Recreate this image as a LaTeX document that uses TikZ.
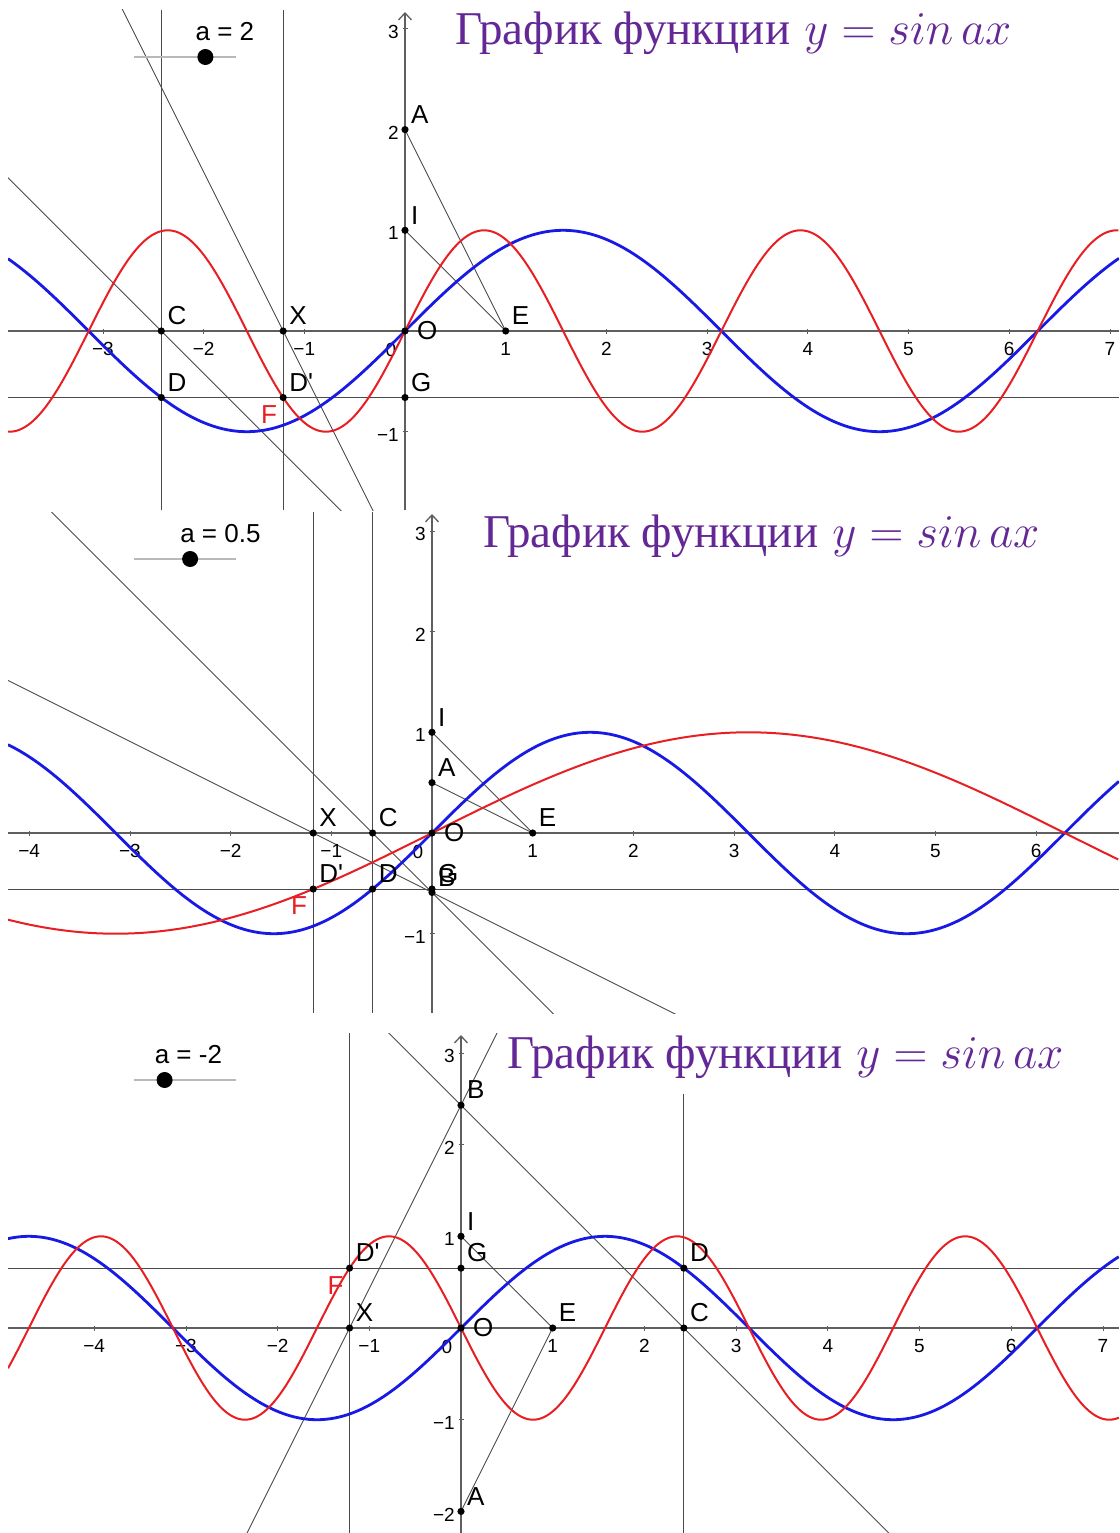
\RequirePackage{fix-cm}
\documentclass[tikz,border=0pt]{standalone}
\usepackage{fontspec}
\newfontfamily\ggbsans{Liberation Sans}
\newfontfamily\ggbserif{Liberation Serif}
\definecolor{ggbblue}{RGB}{25,25,230}
\definecolor{ggbred}{RGB}{232,30,35}
\definecolor{ggbgray}{RGB}{95,95,95}
\definecolor{ggbline}{RGB}{75,75,75}
\definecolor{ggbtrack}{RGB}{185,185,185}
\definecolor{ggbpurple}{RGB}{100,40,150}
\usetikzlibrary{arrows.meta,calc}

\begin{document}
\begin{tikzpicture}[x=1pt, y=-1pt,
  axisline/.style={ggbgray, line width=1.3pt},
  tickmark/.style={ggbgray, line width=0.8pt},
  auxline/.style={ggbline, line width=0.9pt},
  curvesin/.style={ggbblue, line width=2.8pt},
  curvesinax/.style={ggbred, line width=2pt},
  ptlabel/.style={font=\ggbsans\fontsize{26}{28}\selectfont, inner sep=0pt},
  ptname/.style={ptlabel, anchor=south west, xshift=6pt, yshift=6pt},
  ticklabel/.style={font=\ggbsans\fontsize{19}{21}\selectfont, inner sep=0pt},
  titlebox/.style={font=\fontsize{47}{52}\selectfont, text=ggbpurple, fill=white,
    anchor=base west, inner xsep=4pt, inner ysep=2pt, text height=36pt, text depth=24pt}]
\fill[white] (0,0) rectangle (1119,1533);
\useasboundingbox (0,0) rectangle (1119,1533);

% one GeoGebra view per value of a
\foreach \n/\av/\cv/\ox/\oy/\un/\ptop/\pbot/\tx/\xt/\yt in {
    1/2/-2.42/405/331/100.7/10/510/455/{-3,...,-1,1,2,...,7}/{-1,1,2,3},
    2/0.5/-0.59/432/833/100.7/512/1013/483/{-4,...,-1,1,2,...,6}/{-1,1,2,3},
    3/-2/2.43/461/1328/91.7/1033/1533/507/{-4,...,-1,1,2,...,7}/{-2,-1,1,2,3}}
{
  \pgfmathsetmacro\xl{(8-\ox)/\un}
  \pgfmathsetmacro\xr{(1119-\ox)/\un}
  \pgfmathsetmacro\ytop{(\oy-\ptop)/\un}
  \pgfmathsetmacro\ybot{(\oy-\pbot)/\un}
  \pgfmathsetmacro\yarr{(\oy-\ptop-2)/\un}
  \pgfmathsetmacro\sv{sin(\cv r)}
  \pgfmathsetmacro\xc{\cv/\av}
  \begin{scope}[shift={(\ox,\oy)}, x=\un pt, y=\un pt]
    \clip (\xl,\ybot) rectangle (\xr,\ytop);
    \coordinate (O\n) at (0,0);
    \coordinate (E\n) at (1,0);
    \coordinate (I\n) at (0,1);
    \coordinate (A\n) at (0,\av);
    \coordinate (B\n) at (0,\cv);
    \coordinate (C\n) at (\cv,0);
    \coordinate (D\n) at (\cv,\sv);
    \coordinate (G\n) at (0,\sv);
    \coordinate (X\n) at (\xc,0);
    \coordinate (Dp\n) at (\xc,\sv);
    \coordinate (xa\n) at (\xl,0);
    \coordinate (xb\n) at (\xr,0);
    \coordinate (ya\n) at (0,\ybot);
    \coordinate (yb\n) at (0,\ytop);
    \coordinate (yarr\n) at (0,\yarr);
    % construction
    \draw[auxline] (C\n |- ya\n) -- (C\n |- yb\n);
    \draw[auxline] (X\n |- ya\n) -- (X\n |- yb\n);
    \draw[auxline] (D\n -| xa\n) -- (D\n -| xb\n);
    \draw[auxline] ($(C\n)!-15!(B\n)$) -- ($(C\n)!15!(B\n)$);
    \draw[auxline] ($(X\n)!-15!(B\n)$) -- ($(X\n)!15!(B\n)$);
    \draw[auxline] (A\n) -- (E\n);
    \draw[auxline] (I\n) -- (E\n);
    % axes
    \draw[axisline] (xa\n) -- (xb\n);
    \draw[axisline, -{Straight Barb[length=7pt,width=13pt]}] (ya\n) -- (yarr\n);
    \foreach \xv in \xt {
      \draw[tickmark] (\xv,0) ++(0pt,-2.5pt) -- ++(0pt,5pt);
      \node[ticklabel, anchor=north, yshift=-11pt] (tx\n\xv) at (\xv,0)
        {\ifnum\xv<0 −\the\numexpr-\xv\relax\else\xv\fi};
    }
    \foreach \yv in \yt {
      \draw[tickmark] (0,\yv) ++(-2.5pt,0pt) -- ++(5pt,0pt);
      \node[ticklabel, anchor=east, xshift=-6pt, yshift=-3pt] (ty\n\yv) at (0,\yv)
        {\ifnum\yv<0 −\the\numexpr-\yv\relax\else\yv\fi};
    }
    \node[ticklabel] (tz\n) at ($(O\n)+(-14pt,-19pt)$) {0};
    % y = sin x and y = sin ax
    \draw[curvesin, domain=\xl:\xr, samples=300] plot (\x,{sin(\x r)});
    \draw[curvesinax, domain=\xl:\xr, samples=500] plot (\x,{sin(\av*\x r)});
    % points
    \foreach \p in {O,E,I,A,B,C,D,G,X,Dp}
      \fill (\p\n) circle (3.6pt);
    \foreach \p/\ptxt in {E/E,I/I,A/A,B/B,C/C,D/D,G/G,X/X,Dp/D'}
      \node[ptname] (l\p\n) at (\p\n) {\ptxt};
    \node[ptlabel, anchor=west, xshift=12pt] (lO\n) at (O\n) {O};
    \node[ptlabel, text=ggbred, xshift=-14pt, yshift=-17pt] (lF\n) at (Dp\n) {F};
  \end{scope}
  % title and slider
  \node[titlebox] (title\n) at (\tx-4,\ptop+35)
    {{\ggbserif График функции} $y=sin\,ax$};
  \coordinate (sl\n) at (134,\ptop+47);
  \coordinate (sr\n) at (236,\ptop+47);
  \coordinate (sd\n) at (185+10.2*\av,\ptop+47);
  \draw[ggbtrack, line width=1.2pt] (sl\n) -- (sr\n);
  \fill (sd\n) circle (8pt);
  \node[ptlabel, anchor=west] (slab\n) at (175+10.2*\av,\ptop+22) {a = \av};
}
\end{tikzpicture}
\end{document}
